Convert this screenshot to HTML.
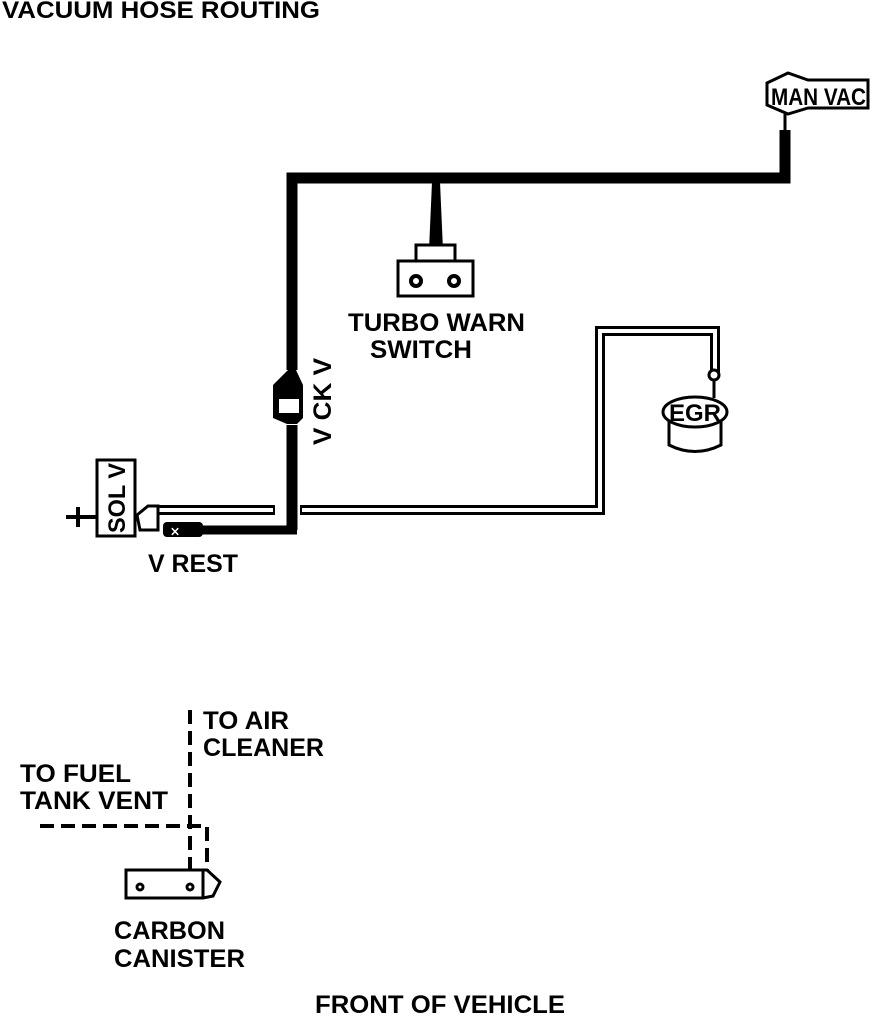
<!DOCTYPE html>
<html><head><style>
html,body{margin:0;padding:0;background:#fff;}
svg{display:block}
text{font-family:"Liberation Sans",sans-serif;font-weight:bold;fill:#000;}
</style></head><body>
<svg width="880" height="1016" viewBox="0 0 880 1016" xmlns="http://www.w3.org/2000/svg">
<text x="2" y="18" font-size="24" textLength="318" lengthAdjust="spacingAndGlyphs">VACUUM HOSE ROUTING</text>

<path d="M292,530 L292,425 M292,370 L292,178 L785,178 L785,130" fill="none" stroke="#000" stroke-width="11"/>
<path d="M180,530 L297,530" stroke="#000" stroke-width="9"/>
<polygon points="767,83 788,73 808,80 868,80 868,108 808,108 788,114 767,105" fill="#fff" stroke="#000" stroke-width="3"/>
<text x="771" y="105" font-size="24" textLength="95" lengthAdjust="spacingAndGlyphs">MAN VAC</text>
<line x1="785" y1="114" x2="785" y2="135" stroke="#000" stroke-width="3"/>
<polygon points="432,182 440,182 443,250 429,250" fill="#000"/>
<rect x="416" y="245" width="39" height="17" fill="#fff" stroke="#000" stroke-width="3"/>
<rect x="398" y="261" width="75" height="35" fill="#fff" stroke="#000" stroke-width="3"/>
<circle cx="416" cy="281" r="5" fill="#fff" stroke="#000" stroke-width="4"/>
<circle cx="454" cy="281" r="5" fill="#fff" stroke="#000" stroke-width="4"/>
<text x="348" y="331" font-size="25" textLength="177" lengthAdjust="spacingAndGlyphs">TURBO WARN</text>
<text x="370" y="358" font-size="25" textLength="102" lengthAdjust="spacingAndGlyphs">SWITCH</text>
<path d="M288,370 L296,370 L303,385 L303,418 L297,424 L287,424 L273,418 L273,385 Z" fill="#000"/>
<rect x="279" y="399" width="20" height="14" fill="#fff"/>
<circle cx="292" cy="366" r="5" fill="#000"/>
<text transform="translate(331,445) rotate(-90)" font-size="25" textLength="87" lengthAdjust="spacingAndGlyphs">V CK V</text>
<path d="M150,510 L275,510 M300,510 L600,510 L600,331 L715,331 L715,372" fill="none" stroke="#000" stroke-width="10"/>
<path d="M152,510 L273,510 M302,510 L600,510 L600,331 L715,331 L715,372" fill="none" stroke="#fff" stroke-width="4"/>
<circle cx="714" cy="375" r="5" fill="#fff" stroke="#000" stroke-width="3"/>
<line x1="714" y1="380" x2="714" y2="398" stroke="#000" stroke-width="3"/>
<path d="M669,413 L669,445 Q695,458 721,445 L721,413" fill="#fff" stroke="#000" stroke-width="3"/>
<ellipse cx="695" cy="412" rx="32" ry="15" fill="#fff" stroke="#000" stroke-width="3"/>
<text x="669" y="421" font-size="24" textLength="52" lengthAdjust="spacingAndGlyphs">EGR</text>
<rect x="97" y="460" width="38" height="76" fill="#fff" stroke="#000" stroke-width="3"/>
<text transform="translate(125,533) rotate(-90)" font-size="24" textLength="70" lengthAdjust="spacingAndGlyphs">SOL V</text>
<line x1="66" y1="517" x2="97" y2="517" stroke="#000" stroke-width="4"/>
<line x1="78" y1="507" x2="78" y2="527" stroke="#000" stroke-width="4"/>
<path d="M137,515 L148,506 L158,506 L158,530 L140,530 Z" fill="#fff" stroke="#000" stroke-width="3"/>
<rect x="163" y="522" width="40" height="15" rx="4" fill="#000"/>
<text x="170" y="535" font-size="12" style="fill:#fff">⨯</text>
<text x="148" y="572" font-size="25" textLength="90" lengthAdjust="spacingAndGlyphs">V REST</text>
<line x1="190" y1="710" x2="190" y2="880" stroke="#000" stroke-width="4" stroke-dasharray="14,7"/>
<path d="M40,826 L207,826 L207,870" fill="none" stroke="#000" stroke-width="4" stroke-dasharray="14,7"/>
<text x="203" y="729" font-size="25" textLength="86" lengthAdjust="spacingAndGlyphs">TO AIR</text>
<text x="203" y="756" font-size="25" textLength="121" lengthAdjust="spacingAndGlyphs">CLEANER</text>
<text x="20" y="782" font-size="25" textLength="111" lengthAdjust="spacingAndGlyphs">TO FUEL</text>
<text x="20" y="809" font-size="25" textLength="148" lengthAdjust="spacingAndGlyphs">TANK VENT</text>
<path d="M126,870 L207,870 L220,882 L213,896 L203,898 L126,898 Z" fill="#fff" stroke="#000" stroke-width="3"/>
<line x1="203" y1="870" x2="203" y2="898" stroke="#000" stroke-width="3"/>
<circle cx="140" cy="887" r="3" fill="#fff" stroke="#000" stroke-width="3"/>
<circle cx="190" cy="887" r="3" fill="#fff" stroke="#000" stroke-width="3"/>
<text x="114" y="939" font-size="25" textLength="111" lengthAdjust="spacingAndGlyphs">CARBON</text>
<text x="114" y="967" font-size="25" textLength="131" lengthAdjust="spacingAndGlyphs">CANISTER</text>
<text x="315" y="1013" font-size="25" textLength="250" lengthAdjust="spacingAndGlyphs">FRONT OF VEHICLE</text>
</svg>
</body></html>
